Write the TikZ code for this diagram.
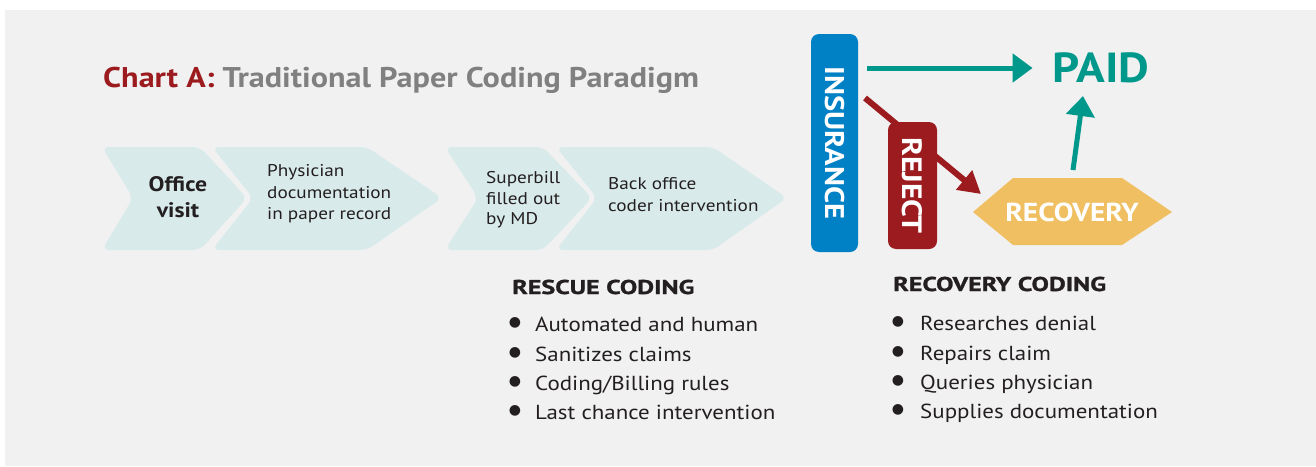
\documentclass[tikz,border=0pt]{standalone}
\usepackage{fontspec}
\setmainfont[FakeStretch=1.13]{PT Sans}
\newfontfamily\headfont[FakeStretch=1.3,BoldFeatures={FakeBold=1.2}]{PT Sans}
\newfontfamily\symfont{DejaVu Sans}
\usetikzlibrary{arrows.meta}
\definecolor{bggray}{HTML}{F1F1F1}
\definecolor{chevfill}{HTML}{D9EAEA}
\definecolor{darkred}{HTML}{9B1B1E}
\definecolor{titlegray}{HTML}{808080}
\definecolor{txt}{HTML}{231F20}
\definecolor{insblue}{HTML}{0081C6}
\definecolor{tealc}{HTML}{00988B}
\definecolor{goldc}{HTML}{EFBF62}
\tikzset{
  chev/.style={fill=chevfill, rounded corners=7pt},
  chevtext/.style={inner sep=0pt, text=txt, align=left, anchor=west, font=\fontsize{17}{21.5}\selectfont},
  heading/.style={inner sep=0pt, anchor=base west, text=txt, font=\fontsize{20}{24}\selectfont\headfont\bfseries},
  bulletitem/.style={inner sep=0pt, anchor=base west, text=txt, font=\fontsize{20.3}{24}\selectfont},
  bulletdot/.style={inner sep=0pt, anchor=center, text=txt, font=\fontsize{14}{16}\selectfont\symfont},
  vbox/.style={rounded corners=8pt, inner sep=0pt, text=white},
  tealarrow/.style={draw=tealc, line width=5pt, -{Triangle[length=20pt,width=28pt]}},
  redarrow/.style={draw=darkred, line width=6pt, -{Triangle[length=22pt,width=24pt]}},
}
\begin{document}
\begin{tikzpicture}[x=1pt,y=-1pt]
\path[use as bounding box, fill=white] (0,0) rectangle (1316,466);
\fill[bggray] (5,10) rectangle (1316,466);

% title
\node[inner sep=0pt, anchor=base west, font=\fontsize{28.5}{30}\selectfont\bfseries] (title) at (103,87)
  {\textcolor{darkred}{Chart A:} \textcolor{titlegray}{Traditional Paper Coding Paradigm}};

% chevrons
\fill[chev] (102,147) -- (200,147) -- (247,198) -- (200,250) -- (102,250) -- (133,198) -- cycle;
\fill[chev] (212,147) -- (367,147) -- (442,198) -- (367,250) -- (212,250) -- (253,198) -- cycle;
\fill[chev] (445,147) -- (543,147) -- (592,198) -- (543,250) -- (445,250) -- (478,198) -- cycle;
\fill[chev] (556,147) -- (713,147) -- (787,198) -- (713,250) -- (556,250) -- (597,198) -- cycle;

\node[inner sep=0pt, text=txt, align=center, font=\fontsize{21}{26}\selectfont\bfseries] (office) at (178,197) {Office\\visit};
\node[chevtext] (phys) at (267,194) {Physician\\documentation\\in paper record};
\node[chevtext, font=\fontsize{17}{20.5}\selectfont] (superbill) at (486,200) {Superbill\\filled out\\by MD};
\node[chevtext] (backoffice) at (608,194.5) {Back office\\coder intervention};

% red arrow (behind reject box)
\coordinate (redstart) at (865,98);
\coordinate (redend) at (981,194);
\draw[redarrow] (redstart) -- (redend);

% insurance box
\node[vbox, fill=insblue, minimum width=47pt, minimum height=218pt] (ins) at (834.5,143) {};
\node[inner sep=0pt, rotate=-90, text=white, font=\fontsize{27}{30}\selectfont\bfseries] (instext) at (ins.center) {INSURANCE};

% reject box
\node[vbox, fill=darkred, minimum width=49pt, minimum height=127pt] (rej) at (912.5,185.5) {};
\node[inner sep=0pt, rotate=-90, text=white, font=\fontsize{28}{30}\selectfont\bfseries] (rejtext) at (rej.center) {REJECT};

% recovery hexagon
\fill[goldc] (973,212) -- (1013,178) -- (1122,178) -- (1172,212) -- (1122,245) -- (1013,245) -- cycle;
\node[inner sep=0pt, text=white, font=\fontsize{26}{30}\selectfont\bfseries] (rec) at (1072,212) {RECOVERY};

% paid
\node[inner sep=0pt, text=tealc, font=\fontsize{42}{44}\selectfont\bfseries] (paid) at (1101,68) {PAID};

% teal arrows
\draw[tealarrow] ([xshift=9pt]ins.east |- paid.west) -- ([xshift=-20pt]paid.west);
\coordinate (upstart) at (1073,170);
\coordinate (upend) at (1083,96);
\draw[tealarrow] (upstart) -- (upend);

% rescue coding
\node[heading] (rescue) at (512,294) {RESCUE CODING};
\node[bulletdot] (r1b) at (515,323) {●};
\node[bulletitem] (r1) at (535,331) {Automated and human};
\node[bulletdot] (r2b) at (515,353) {●};
\node[bulletitem] (r2) at (535,361) {Sanitizes claims};
\node[bulletdot] (r3b) at (515,382) {●};
\node[bulletitem] (r3) at (535,390) {Coding/Billing rules};
\node[bulletdot] (r4b) at (515,411) {●};
\node[bulletitem] (r4) at (535,419) {Last chance intervention};

% recovery coding
\node[heading] (recovery) at (893,291) {RECOVERY CODING};
\node[bulletdot] (c1b) at (898,322) {●};
\node[bulletitem] (c1) at (920,330) {Researches denial};
\node[bulletdot] (c2b) at (898,352) {●};
\node[bulletitem] (c2) at (920,360) {Repairs claim};
\node[bulletdot] (c3b) at (898,381) {●};
\node[bulletitem] (c3) at (920,389) {Queries physician};
\node[bulletdot] (c4b) at (898,410) {●};
\node[bulletitem] (c4) at (920,418) {Supplies documentation};
\end{tikzpicture}
\end{document}
